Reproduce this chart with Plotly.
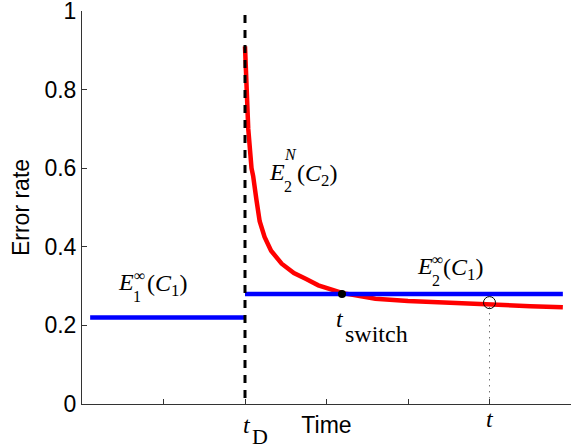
import plotly.graph_objects as go

# ---- data ----
t_D = 2.0
t_end = 5.9
t_switch = 3.19
t_now = 5.0

e1_level = 0.22            # E1^inf(C1)
e1_start = 0.1
e2_level = 0.28            # E2^inf(C1)

curve_t = [2.0, 2.04, 2.08, 2.1, 2.14, 2.18, 2.24, 2.32, 2.45, 2.6, 2.75, 2.9,
           3.2, 3.6, 4.0, 4.5, 5.0, 5.5, 5.9]
curve_e = [0.91, 0.70, 0.60, 0.58, 0.52, 0.465, 0.425, 0.39, 0.357, 0.333, 0.318,
           0.302, 0.282, 0.268, 0.262, 0.257, 0.253, 0.249, 0.246]

circle_e = 0.258
y_ticks = [0, 0.2, 0.4, 0.6, 0.8, 1]
y_labels = ["0", "0.2", "0.4", "0.6", "0.8", "1"]
x_ticks = [0, 1, 2, 3, 4, 5, 6]

SANS = "Liberation Sans, Arial, sans-serif"
SERIF = "Liberation Serif, Times New Roman, serif"

# plot-area geometry (pixels) used only to place text labels
L, R, T, B = 82, 8, 11, 44
W, H = 579, 448
PW, PH = W - L - R, H - T - B


def px2x(px):
    return (px - L) / PW * 6


def py2y(py):
    return (H - B - py) / PH


fig = go.Figure()

fig.add_trace(go.Scatter(x=curve_t, y=curve_e, mode="lines",
                         line=dict(color="#ff0000", width=4.5), hoverinfo="skip"))
fig.add_trace(go.Scatter(x=[e1_start, t_D], y=[e1_level, e1_level], mode="lines",
                         line=dict(color="#0000ff", width=4.5), hoverinfo="skip"))
fig.add_trace(go.Scatter(x=[t_D, t_end], y=[e2_level, e2_level], mode="lines",
                         line=dict(color="#0000ff", width=4.5), hoverinfo="skip"))
fig.add_trace(go.Scatter(x=[t_D, t_D], y=[0.99, 0], mode="lines",
                         line=dict(color="black", width=3, dash="8px,7px"), hoverinfo="skip"))
fig.add_trace(go.Scatter(x=[t_now, t_now], y=[circle_e - 0.012, 0], mode="lines",
                         line=dict(color="#333333", width=1, dash="1px,5px"), hoverinfo="skip"))
fig.add_trace(go.Scatter(x=[t_switch], y=[e2_level], mode="markers",
                         marker=dict(color="black", size=8), hoverinfo="skip"))
fig.add_trace(go.Scatter(x=[t_now], y=[circle_e], mode="markers",
                         marker=dict(color="rgba(0,0,0,0)", size=12,
                                     line=dict(color="black", width=1)), hoverinfo="skip"))

ann = []


def txt(px, py, text, size=24, xanchor="center", paper=False):
    ann.append(dict(x=px2x(px), y=py2y(py), xref="x", yref="paper" if paper else "y",
                    text=text, showarrow=False, xanchor=xanchor, yanchor="middle",
                    borderpad=0,
                    font=dict(family=SERIF, size=size, color="black")))


def e_label(e_left, base, sub, sup, sup_italic, csub, c_left):
    txt(e_left - 1, base - 8, "<i>E</i>", xanchor="left")
    txt(e_left + 19, base + 6, sub, size=16)
    txt(e_left + 21, base - (26 if sup_italic else 15),
        "<i>%s</i>" % sup if sup_italic else sup, size=16)
    txt(c_left - 1, base - 5, "(<i>C</i><sub>%s</sub>)" % csub, xanchor="left")


e_label(118, 290, "1", "∞", False, "1", 146.7)
e_label(269, 180, "2", "N", True, "2", 296.7)
e_label(416.7, 274, "2", "∞", False, "1", 443.3)

# t_switch
txt(340, 319, "<i>t</i>")
txt(376.5, 334, "switch")
# t_D (below axis)
txt(246.7, 424.5, "<i>t</i>", paper=True)
txt(259.5, 436, "D", size=22, paper=True)
# t (below axis)
txt(490, 419, "<i>t</i>", paper=True)

fig.update_layout(
    width=W, height=H,
    margin=dict(l=L, r=R, t=T, b=B),
    paper_bgcolor="white", plot_bgcolor="white",
    showlegend=False,
    annotations=ann,
    font=dict(family=SANS, size=23, color="black"),
)
fig.update_xaxes(range=[0, 6], tickvals=x_ticks, showticklabels=False,
                 ticks="inside", ticklen=5, tickcolor="#333333",
                 showline=True, linecolor="#333333", linewidth=1,
                 showgrid=False, zeroline=False, automargin=False,
                 title=dict(text="Time", font=dict(family=SANS, size=23), standoff=12))
fig.update_yaxes(range=[0, 1], tickvals=y_ticks, ticktext=y_labels,
                 ticks="inside", ticklen=5, tickcolor="#333333",
                 showline=True, linecolor="#333333", linewidth=1,
                 showgrid=False, zeroline=False, automargin=False,
                 ticklabeloverflow="allow",
                 tickfont=dict(family=SANS, size=23),
                 title=dict(text="Error rate", font=dict(family=SANS, size=23), standoff=8))

fig.write_html("out.html", config={"displayModeBar": False},
               post_script="document.body.style.margin='0';document.body.style.overflow='hidden';")
